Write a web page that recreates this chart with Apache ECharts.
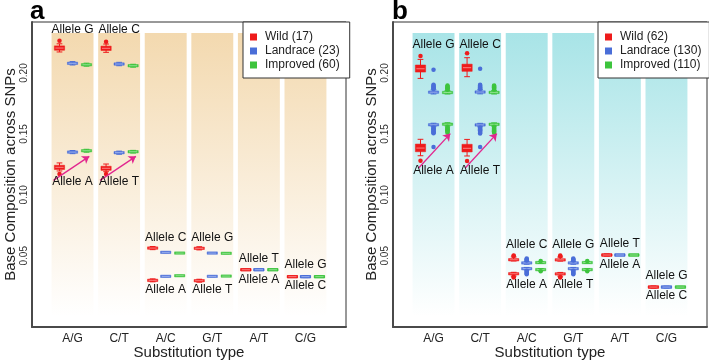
<!DOCTYPE html>
<html>
<head>
<meta charset="utf-8">
<script src="https://cdn.jsdelivr.net/npm/echarts@6/dist/echarts.min.js"></script>
<style>
html,body{margin:0;padding:0;background:#fff;}
#chart{width:709px;height:361px;}
</style>
</head>
<body>
<div id="chart"></div>
<script>
// ---------- DATA ----------
const types = ['A/G', 'C/T', 'A/C', 'G/T', 'A/T', 'C/G'];
const groupsA = ['Wild (17)', 'Landrace (23)', 'Improved (60)'];
const groupsB = ['Wild (62)', 'Landrace (130)', 'Improved (110)'];
const upperAlleles = ['Allele G', 'Allele C', 'Allele C', 'Allele G', 'Allele T', 'Allele G'];
const lowerAlleles = ['Allele A', 'Allele T', 'Allele A', 'Allele T', 'Allele A', 'Allele C'];

// boxplot stats: [typeIndex, low, q1, median, q3, high]
const aWild = [
  [0, 0.2173, 0.2187, 0.2205, 0.2223, 0.2240], [0, 0.1196, 0.1208, 0.1226, 0.1243, 0.1262],
  [1, 0.2170, 0.2185, 0.2203, 0.2221, 0.2238], [1, 0.1190, 0.1201, 0.1218, 0.1235, 0.1253],
  [2, 0.0550, 0.0558, 0.0563, 0.0568, 0.0576], [2, 0.0286, 0.0293, 0.0298, 0.0303, 0.0310],
  [3, 0.0548, 0.0556, 0.0561, 0.0566, 0.0574], [3, 0.0283, 0.0290, 0.0295, 0.0300, 0.0307],
  [4, 0.0382, 0.0383, 0.0385, 0.0387, 0.0388], [4, 0.0382, 0.0383, 0.0385, 0.0387, 0.0388],
  [5, 0.0325, 0.0326, 0.0328, 0.0330, 0.0331], [5, 0.0325, 0.0326, 0.0328, 0.0330, 0.0331]
];
const aLandrace = [
  [0, 0.2066, 0.2073, 0.2080, 0.2087, 0.2094], [0, 0.1338, 0.1345, 0.1351, 0.1357, 0.1364],
  [1, 0.2060, 0.2067, 0.2074, 0.2081, 0.2088], [1, 0.1333, 0.1340, 0.1346, 0.1352, 0.1359],
  [2, 0.0525, 0.0526, 0.0528, 0.0530, 0.0531], [2, 0.0328, 0.0329, 0.0331, 0.0333, 0.0334],
  [3, 0.0519, 0.0520, 0.0522, 0.0524, 0.0525], [3, 0.0328, 0.0329, 0.0331, 0.0333, 0.0334],
  [4, 0.0382, 0.0383, 0.0385, 0.0387, 0.0388], [4, 0.0382, 0.0383, 0.0385, 0.0387, 0.0388],
  [5, 0.0321, 0.0326, 0.0328, 0.0330, 0.0335], [5, 0.0321, 0.0326, 0.0328, 0.0330, 0.0335]
];
const aImproved = [
  [0, 0.2056, 0.2062, 0.2068, 0.2074, 0.2081], [0, 0.1350, 0.1356, 0.1362, 0.1368, 0.1374],
  [1, 0.2048, 0.2054, 0.2060, 0.2066, 0.2072], [1, 0.1343, 0.1348, 0.1354, 0.1360, 0.1365],
  [2, 0.0519, 0.0520, 0.0522, 0.0524, 0.0525], [2, 0.0333, 0.0334, 0.0336, 0.0338, 0.0339],
  [3, 0.0517, 0.0518, 0.0520, 0.0522, 0.0523], [3, 0.0330, 0.0331, 0.0333, 0.0335, 0.0336],
  [4, 0.0382, 0.0383, 0.0385, 0.0387, 0.0388], [4, 0.0382, 0.0383, 0.0385, 0.0387, 0.0388],
  [5, 0.0325, 0.0326, 0.0328, 0.0330, 0.0331], [5, 0.0325, 0.0326, 0.0328, 0.0330, 0.0331]
];
const bWild = [
  [0, 0.1956, 0.2008, 0.2035, 0.2066, 0.2112], [0, 0.1321, 0.1354, 0.1384, 0.1417, 0.1456],
  [1, 0.1970, 0.2014, 0.2044, 0.2073, 0.2126], [1, 0.1319, 0.1352, 0.1382, 0.1415, 0.1455],
  [2, 0.0457, 0.0460, 0.0467, 0.0475, 0.0490], [2, 0.0333, 0.0345, 0.0352, 0.0359, 0.0364],
  [3, 0.0456, 0.0459, 0.0466, 0.0474, 0.0489], [3, 0.0332, 0.0344, 0.0351, 0.0358, 0.0363],
  [4, 0.0499, 0.0503, 0.0506, 0.0509, 0.0513], [4, 0.0499, 0.0503, 0.0506, 0.0509, 0.0513],
  [5, 0.0236, 0.0240, 0.0243, 0.0246, 0.0250], [5, 0.0236, 0.0240, 0.0243, 0.0246, 0.0250]
];
const bLandrace = [
  [0, 0.1828, 0.1835, 0.1843, 0.1852, 0.1862], [0, 0.1560, 0.1567, 0.1575, 0.1582, 0.1588],
  [1, 0.1829, 0.1836, 0.1844, 0.1853, 0.1863], [1, 0.1559, 0.1566, 0.1574, 0.1581, 0.1587],
  [2, 0.0430, 0.0434, 0.0441, 0.0448, 0.0454], [2, 0.0383, 0.0388, 0.0394, 0.0400, 0.0404],
  [3, 0.0430, 0.0434, 0.0441, 0.0448, 0.0454], [3, 0.0383, 0.0388, 0.0394, 0.0400, 0.0404],
  [4, 0.0503, 0.0505, 0.0506, 0.0507, 0.0509], [4, 0.0503, 0.0505, 0.0506, 0.0507, 0.0509],
  [5, 0.0237, 0.0240, 0.0243, 0.0246, 0.0249], [5, 0.0237, 0.0240, 0.0243, 0.0246, 0.0249]
];
const bImproved = [
  [0, 0.1828, 0.1834, 0.1840, 0.1848, 0.1856], [0, 0.1566, 0.1573, 0.1580, 0.1587, 0.1592],
  [1, 0.1828, 0.1834, 0.1841, 0.1849, 0.1857], [1, 0.1565, 0.1572, 0.1579, 0.1586, 0.1591],
  [2, 0.0437, 0.0440, 0.0444, 0.0448, 0.0452], [2, 0.0378, 0.0382, 0.0386, 0.0390, 0.0394],
  [3, 0.0437, 0.0440, 0.0444, 0.0448, 0.0452], [3, 0.0378, 0.0382, 0.0386, 0.0390, 0.0394],
  [4, 0.0504, 0.0505, 0.0506, 0.0507, 0.0508], [4, 0.0504, 0.0505, 0.0506, 0.0507, 0.0508],
  [5, 0.0238, 0.0241, 0.0243, 0.0245, 0.0248], [5, 0.0238, 0.0241, 0.0243, 0.0245, 0.0248]
];

// outliers: [typeIndex, value]
const aWildOut = [[0, 0.2265], [0, 0.1171], [1, 0.2257], [1, 0.1171]];
const aLandraceOut = [];
const aImprovedOut = [];
const bWildOut = [[0, 0.2140], [0, 0.1280], [1, 0.2162], [1, 0.1278],
  [2, 0.0497], [2, 0.0503], [2, 0.0327], [2, 0.0322], [3, 0.0496], [3, 0.0502], [3, 0.0326], [3, 0.0321]];
const bLandraceOut = [
  [0, 0.2027], [0, 0.1868], [0, 0.1875], [0, 0.1882], [0, 0.1889], [0, 0.1896], [0, 0.1903],
  [0, 0.1392], [0, 0.1553], [0, 0.1546], [0, 0.1539], [0, 0.1532], [0, 0.1525], [0, 0.1518], [0, 0.1511], [0, 0.1505],
  [1, 0.2035], [1, 0.1869], [1, 0.1876], [1, 0.1883], [1, 0.1890], [1, 0.1897], [1, 0.1904],
  [1, 0.1392], [1, 0.1552], [1, 0.1545], [1, 0.1538], [1, 0.1531], [1, 0.1524], [1, 0.1517], [1, 0.1510], [1, 0.1504],
  [2, 0.0460], [2, 0.0466], [2, 0.0472], [2, 0.0478], [2, 0.0377], [2, 0.0370], [2, 0.0363], [2, 0.0356], [2, 0.0349],
  [3, 0.0460], [3, 0.0466], [3, 0.0472], [3, 0.0478], [3, 0.0377], [3, 0.0370], [3, 0.0363], [3, 0.0356], [3, 0.0349]
];
const bImprovedOut = [
  [0, 0.1862], [0, 0.1869], [0, 0.1876], [0, 0.1883], [0, 0.1890], [0, 0.1897],
  [0, 0.1559], [0, 0.1552], [0, 0.1545], [0, 0.1538], [0, 0.1531], [0, 0.1524], [0, 0.1517], [0, 0.1510],
  [1, 0.1863], [1, 0.1870], [1, 0.1877], [1, 0.1884], [1, 0.1891], [1, 0.1898],
  [1, 0.1558], [1, 0.1551], [1, 0.1544], [1, 0.1537], [1, 0.1530], [1, 0.1523], [1, 0.1516], [1, 0.1509],
  [2, 0.0457], [2, 0.0372], [3, 0.0457], [3, 0.0372]
];

// allele label anchor values (y, data units) per substitution type
const aUpperLabelY = [0.2353, 0.2353, 0.0651, 0.0651, 0.0473, 0.0424];
const aLowerLabelY = [0.1105, 0.1105, 0.0218, 0.0218, 0.0300, 0.0251];
const bUpperLabelY = [0.2231, 0.2231, 0.0591, 0.0591, 0.0602, 0.0336];
const bLowerLabelY = [0.1201, 0.1201, 0.0265, 0.0265, 0.0424, 0.0171];

// arrows: [[x1, y1], [x2, y2]] in data units
const aArrows = [[[-0.41, 0.1119], [0.36, 0.1316]], [[0.59, 0.1119], [1.36, 0.1316]]];
const bArrows = [[[-0.32, 0.1220], [0.36, 0.1503]], [[0.68, 0.1220], [1.36, 0.1503]]];

const yTicks = [0.05, 0.10, 0.15, 0.20];

// ---------- STYLE ----------
const FONT = "'Liberation Sans', Arial, Helvetica, sans-serif";
const COLORS = ['#EE1B1B', '#4A6ED8', '#3DC43D'];
const LIGHTS = ['#FF9A9A', '#B3C4F2', '#A6E8A6'];
const OFFSETS = [-0.28, 0, 0.30];
const BOX_W = 0.22;
const COL_TOP = 0.2328;
const COL_HALF = 0.45;
const COL_COLORS = ['#F3D9AF', '#A8E4E7'];

const chart = echarts.init(document.getElementById('chart'), null, {renderer: 'canvas'});

function boxRenderer(offset, color, light) {
  return function (params, api) {
    const x = api.value(0) + offset;
    const lo = api.coord([x, api.value(1)]);
    const q1 = api.coord([x, api.value(2)]);
    const md = api.coord([x, api.value(3)]);
    const q3 = api.coord([x, api.value(4)]);
    const hi = api.coord([x, api.value(5)]);
    const w = api.size([BOX_W, 0])[0];
    const cx = lo[0];
    let top = q3[1], h = q1[1] - q3[1];
    if (h < 2.4) { top = md[1] - 1.2; h = 2.4; }
    const cap = w * 0.28;
    return {
      type: 'group',
      children: [
        {type: 'line', shape: {x1: cx, y1: hi[1], x2: cx, y2: lo[1]}, style: {stroke: color, lineWidth: 1}},
        {type: 'line', shape: {x1: cx - cap, y1: hi[1], x2: cx + cap, y2: hi[1]}, style: {stroke: color, lineWidth: 1}},
        {type: 'line', shape: {x1: cx - cap, y1: lo[1], x2: cx + cap, y2: lo[1]}, style: {stroke: color, lineWidth: 1}},
        {type: 'rect', shape: {x: cx - w / 2, y: top, width: w, height: h}, style: {fill: color, stroke: color, lineWidth: 0.5}},
        {type: 'line', shape: {x1: cx - w / 2 + 1, y1: md[1], x2: cx + w / 2 - 1, y2: md[1]}, style: {stroke: light, lineWidth: 0.8}}
      ]
    };
  };
}

const panels = [
  {left: 32, groups: groupsA, boxes: [aWild, aLandrace, aImproved], outs: [aWildOut, aLandraceOut, aImprovedOut],
    upY: aUpperLabelY, loY: aLowerLabelY, arrows: aArrows, legendLeft: 243, legendPad: [9, 10, 7, 7], letter: 'a', letterX: 30},
  {left: 393, groups: groupsB, boxes: [bWild, bLandrace, bImproved], outs: [bWildOut, bLandraceOut, bImprovedOut],
    upY: bUpperLabelY, loY: bLowerLabelY, arrows: bArrows, legendLeft: 598, legendPad: [9, 8, 7, 7], letter: 'b', letterX: 392}
];

const grid = [], xAxis = [], yAxis = [], legend = [], series = [], graphic = [];

panels.forEach((p, pi) => {
  grid.push({left: p.left, top: 22, width: 314, height: 305, containLabel: false, outerBoundsMode: 'none',
    show: true, borderColor: '#333', borderWidth: 1, backgroundColor: 'transparent'});
  xAxis.push({
    gridIndex: pi, type: 'value', min: -0.87, max: 5.87,
    splitLine: {show: false}, axisTick: {show: false},
    axisLine: {show: true, onZero: false, lineStyle: {color: '#4a4a4a', width: 2}},
    axisLabel: {customValues: [0, 1, 2, 3, 4, 5], formatter: v => types[Math.round(v)], fontSize: 12, color: '#222', margin: 6, fontFamily: FONT},
    name: 'Substitution type', nameLocation: 'middle', nameGap: 18, nameMoveOverlap: false,
    nameTextStyle: {fontSize: 15, color: '#222', fontFamily: FONT}
  });
  yAxis.push({
    gridIndex: pi, type: 'value', min: -0.0085, max: 0.2419,
    splitLine: {show: false}, axisTick: {show: false},
    axisLine: {show: true, onZero: false, lineStyle: {color: '#4a4a4a', width: 2}},
    axisLabel: {customValues: yTicks, formatter: v => v.toFixed(2), rotate: 90, fontSize: 10, color: '#333', margin: 3, fontFamily: FONT},
    name: 'Base Composition across SNPs', nameLocation: 'middle', nameGap: 14,
    nameTextStyle: {fontSize: 15, color: '#222', fontFamily: FONT}
  });
  legend.push({
    orient: 'vertical', left: p.legendLeft, top: 22,
    data: p.groups.map(n => ({name: n, icon: 'rect'})),
    itemWidth: 7, itemHeight: 7, itemGap: 2, padding: p.legendPad,
    borderColor: '#333', borderWidth: 1, backgroundColor: '#fff', borderRadius: 0,
    selectedMode: false,
    textStyle: {fontSize: 12, color: '#222', fontFamily: FONT, lineHeight: 12, padding: [0, 0, 0, 3]}
  });
  // background columns
  series.push({
    type: 'custom', xAxisIndex: pi, yAxisIndex: pi, silent: true, z: 0,
    data: types.map((t, i) => [i]),
    renderItem: (params, api) => {
      const i = api.value(0);
      const tl = api.coord([i - COL_HALF, COL_TOP]);
      const br = api.coord([i + COL_HALF, 0]);
      return {
        type: 'rect', shape: {x: tl[0], y: tl[1], width: br[0] - tl[0], height: br[1] - tl[1]},
        style: {fill: new echarts.graphic.LinearGradient(0, 0, 0, 1, [
          {offset: 0, color: COL_COLORS[pi]}, {offset: 1, color: '#ffffff'}])}
      };
    }
  });
  // boxes and outliers
  p.groups.forEach((g, gi) => {
    series.push({
      type: 'custom', name: g, xAxisIndex: pi, yAxisIndex: pi, z: 3,
      itemStyle: {color: COLORS[gi]},
      data: p.boxes[gi],
      renderItem: boxRenderer(OFFSETS[gi], COLORS[gi], LIGHTS[gi])
    });
    series.push({
      type: 'scatter', name: g, xAxisIndex: pi, yAxisIndex: pi, z: 4,
      symbolSize: 4.5, itemStyle: {color: COLORS[gi], opacity: 1},
      data: p.outs[gi].map(d => [d[0] + OFFSETS[gi], d[1]])
    });
  });
  // arrows
  series.push({
    type: 'lines', coordinateSystem: 'cartesian2d', xAxisIndex: pi, yAxisIndex: pi, z: 5,
    symbol: ['none', 'arrow'], symbolSize: 7,
    lineStyle: {color: '#E2268E', width: 1.3, opacity: 1},
    data: p.arrows.map(c => ({coords: c}))
  });
  // allele labels
  const labelData = [];
  types.forEach((t, i) => {
    labelData.push([i, p.upY[i], 0]);
    labelData.push([i, p.loY[i], 1]);
  });
  series.push({
    type: 'custom', xAxisIndex: pi, yAxisIndex: pi, silent: true, z: 6,
    data: labelData,
    renderItem: (params, api) => {
      const i = api.value(0);
      const pt = api.coord([i, api.value(1)]);
      const txt = api.value(2) === 0 ? upperAlleles[i] : lowerAlleles[i];
      return {type: 'text', x: pt[0], y: pt[1],
        style: {text: txt, fill: '#111', font: '12px ' + FONT, textAlign: 'center', textVerticalAlign: 'middle', align: 'center', verticalAlign: 'middle'}};
    }
  });
  graphic.push({type: 'text', left: p.letterX, top: -1,
    style: {text: p.letter, fill: '#000', font: 'bold 26px ' + FONT}});
});

chart.setOption({
  animation: false,
  textStyle: {fontFamily: FONT},
  grid, xAxis, yAxis, legend, series, graphic
});
</script>
</body>
</html>
